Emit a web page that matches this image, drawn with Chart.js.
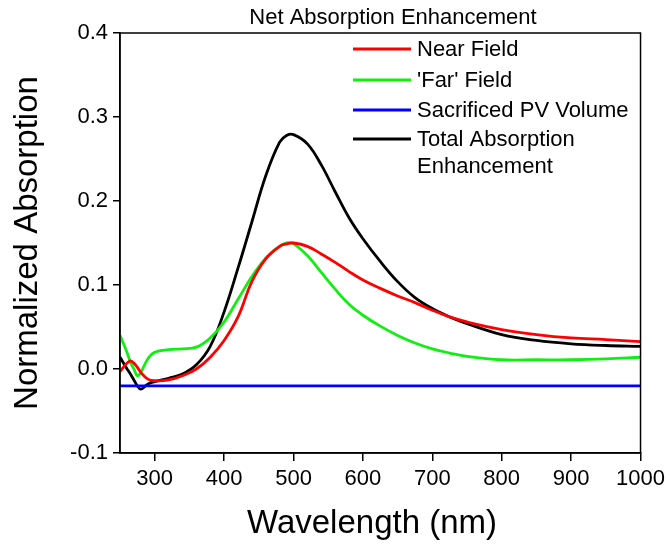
<!DOCTYPE html>
<html>
<head>
<meta charset="utf-8">
<title>Net Absorption Enhancement</title>
<script src="https://cdn.jsdelivr.net/npm/chart.js@4"></script>
<style>
    html, body { margin: 0; padding: 0; background: #fff; }
    #wrap { width: 670px; height: 544px; }
</style>
</head>
<body>
<div id="wrap"><canvas id="chart" width="670" height="544"></canvas></div>
<script>
// 波长 (nm)
const wavelengths = [250, 260, 265, 270, 275, 280, 290, 300, 320, 340, 360, 380, 400, 420, 440, 460, 480, 490, 500,
    520, 540, 560, 580, 600, 625, 650, 675, 700, 725, 750, 800, 850, 900, 950, 1000];

// 各曲线数值
const nearField = [-0.003, 0.007, 0.0095, 0.007, 0.002, -0.004, -0.012, -0.014, -0.013, -0.008, 0.000, 0.014, 0.034,
    0.062, 0.104, 0.131, 0.146, 0.149, 0.150, 0.146, 0.137, 0.127, 0.116, 0.106, 0.096, 0.087, 0.079, 0.070, 0.062,
    0.056, 0.047, 0.041, 0.037, 0.035, 0.0325];
const farField = [0.040, 0.020, 0.008, 0.000, -0.008, -0.004, 0.012, 0.020, 0.023, 0.024, 0.026, 0.037, 0.056,
    0.083, 0.110, 0.132, 0.146, 0.150, 0.149, 0.135, 0.115, 0.095, 0.077, 0.064, 0.051, 0.040, 0.031, 0.024, 0.019,
    0.015, 0.011, 0.011, 0.011, 0.012, 0.014];
const totalEnhancement = [0.014, 0.0004, -0.006, -0.013, -0.020, -0.024, -0.018, -0.015, -0.011, -0.006, 0.005, 0.027,
    0.068, 0.120, 0.175, 0.230, 0.270, 0.278, 0.279, 0.268, 0.243, 0.211, 0.180, 0.155, 0.128, 0.104, 0.085, 0.072,
    0.062, 0.054, 0.041, 0.034, 0.030, 0.028, 0.027];
// 牺牲的光伏体积：水平线
const sacrificedX = [250, 1000];
const sacrificedPV = [-0.020, -0.020];

// 坐标轴刻度
const xTicks = [300, 400, 500, 600, 700, 800, 900, 1000];
const xTickLabels = ['300', '400', '500', '600', '700', '800', '900', '1000'];
const yTicks = [-0.1, 0, 0.1, 0.2, 0.3, 0.4];
const yTickLabels = ['-0.1', '0.0', '0.1', '0.2', '0.3', '0.4'];

const chartTitle = 'Net Absorption Enhancement';
const xTitle = 'Wavelength (nm)';
const yTitle = 'Normalized Absorption';
const legendRows = [49, 80, 110, 139];

const FONT = '"Liberation Sans", Arial, sans-serif';

function toPoints(xs, ys) {
    return xs.map((x, i) => ({ x: x, y: ys[i] }));
}

// 边框、标题和图例
const decorPlugin = {
    id: 'decor',
    afterDraw(chart) {
        const ctx = chart.ctx;
        const a = chart.chartArea;
        ctx.save();
        ctx.strokeStyle = '#000';
        ctx.lineWidth = 1.5;
        ctx.strokeRect(a.left, a.top, a.right - a.left, a.bottom - a.top);

        ctx.fillStyle = '#000';
        ctx.textAlign = 'center';
        ctx.textBaseline = 'alphabetic';
        ctx.font = '22px ' + FONT;
        ctx.fillText(chartTitle, 393, 24);

        ctx.font = '33px ' + FONT;
        ctx.fillText(xTitle, 372, 533);

        ctx.save();
        ctx.translate(37, (a.top + a.bottom) / 2);
        ctx.rotate(-Math.PI / 2);
        ctx.fillText(yTitle, 0, 0);
        ctx.restore();

        // 图例
        ctx.font = '22px ' + FONT;
        ctx.textAlign = 'left';
        chart.data.datasets.forEach((ds, i) => {
            const y = legendRows[i];
            ctx.strokeStyle = ds.borderColor;
            ctx.lineWidth = 3;
            ctx.beginPath();
            ctx.moveTo(353, y);
            ctx.lineTo(411, y);
            ctx.stroke();
            const lines = Array.isArray(ds.label) ? ds.label : [ds.label];
            lines.forEach((t, k) => ctx.fillText(t, 417, y + 7 + k * 27));
        });
        ctx.restore();
    }
};

function lineSet(label, xs, ys, color) {
    return {
        label: label,
        data: toPoints(xs, ys),
        borderColor: color,
        borderWidth: 2.8,
        pointRadius: 0,
        fill: false,
        tension: 0.4
    };
}

new Chart(document.getElementById('chart'), {
    type: 'line',
    data: {
        datasets: [
            lineSet('Near Field', wavelengths, nearField, '#ff0000'),
            lineSet("'Far' Field", wavelengths, farField, '#11ee11'),
            lineSet('Sacrificed PV Volume', sacrificedX, sacrificedPV, '#0000ff'),
            lineSet(['Total Absorption', 'Enhancement'], wavelengths, totalEnhancement, '#000000')
        ]
    },
    options: {
        responsive: false,
        animation: false,
        devicePixelRatio: 1,
        layout: { padding: { top: 33, right: 29, left: 0, bottom: 0 } },
        plugins: {
            legend: { display: false },
            title: { display: false },
            tooltip: { enabled: false }
        },
        scales: {
            x: {
                type: 'linear',
                min: 250,
                max: 1000,
                afterBuildTicks: s => { s.ticks = xTicks.map(v => ({ value: v })); },
                afterFit: s => { s.height = 91; },
                grid: { drawOnChartArea: false, drawTicks: true, tickLength: 8, color: '#000', lineWidth: 1.5 },
                border: { display: true, color: '#000', width: 1.5 },
                ticks: {
                    color: '#000',
                    font: { family: FONT, size: 22 },
                    padding: 5,
                    maxRotation: 0,
                    autoSkip: false,
                    callback: (v, i) => xTickLabels[i]
                }
            },
            y: {
                type: 'linear',
                min: -0.1,
                max: 0.4,
                afterBuildTicks: s => { s.ticks = yTicks.map(v => ({ value: v })); },
                afterFit: s => { s.width = 120; },
                grid: { drawOnChartArea: false, drawTicks: true, tickLength: 7, color: '#000', lineWidth: 1.5 },
                border: { display: true, color: '#000', width: 1.5 },
                ticks: {
                    color: '#000',
                    font: { family: FONT, size: 22 },
                    padding: 5,
                    autoSkip: false,
                    callback: (v, i) => yTickLabels[i]
                }
            }
        }
    },
    plugins: [decorPlugin]
});
</script>
</body>
</html>
